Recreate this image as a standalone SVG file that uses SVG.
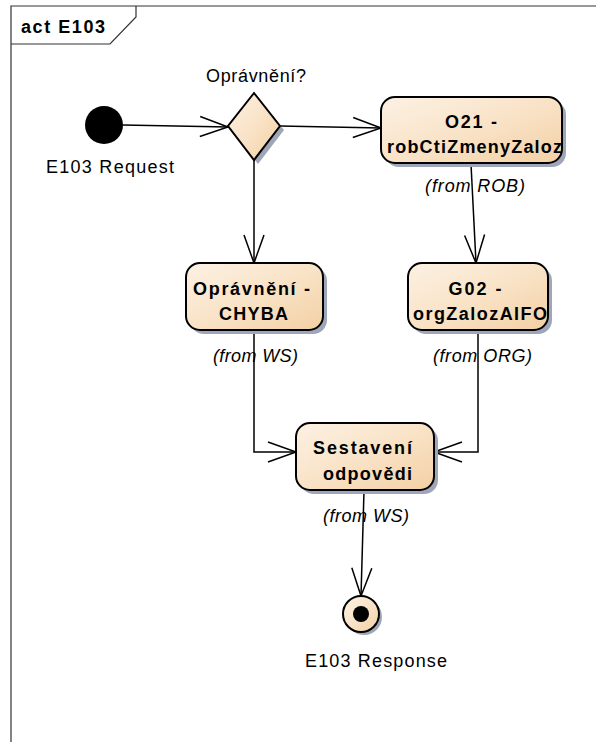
<svg xmlns="http://www.w3.org/2000/svg" width="596" height="742" viewBox="0 0 596 742">
<style>
text{font-family:"Liberation Sans",Arial,sans-serif;font-size:18px;fill:#000}
.b{font-weight:bold}
.i{font-style:italic}
.node{stroke:#000;stroke-width:2;fill:url(#g)}
.shadow{fill:#9ea6b8;stroke:none}
.edge{fill:none;stroke:#000;stroke-width:1.5;marker-end:url(#arr)}
.frame{fill:none;stroke:#333;stroke-width:1.2}
</style>
<defs>
<linearGradient id="g" x1="0" y1="0" x2="1" y2="1">
<stop offset="0" stop-color="#fcf1e4"/>
<stop offset="0.5" stop-color="#f9e3c7"/>
<stop offset="1" stop-color="#f3d0a4"/>
</linearGradient>
<marker id="arr" markerUnits="userSpaceOnUse" markerWidth="40" markerHeight="30" refX="0" refY="0" orient="auto" overflow="visible">
<path d="M-28,-10 L0,0 L-28,10" fill="none" stroke="#000" stroke-width="1.5"/>
</marker>
</defs>
<rect width="596" height="742" fill="#fff"/>
<g id="frame">
<path class="frame" d="M11,742 L11,6 L600,6"/>
<path class="frame" d="M11,44 L110,44 L136,17 L136,6"/>
<text x="21" y="33" class="b" textLength="84" lengthAdjust="spacing">act E103</text>
</g>
<g id="connectors">
<path class="edge" d="M123,125 L228,127"/>
<path class="edge" d="M280,126 L381,128"/>
<path class="edge" d="M254,160 L254,263"/>
<path class="edge" d="M471,164 L476,263"/>
<path class="edge" d="M254,331 L254,452 L296,452"/>
<path class="edge" d="M478,331 L478,452 L434,452"/>
<path class="edge" d="M364,491 L361,596"/>
</g>
<g id="initial">
<circle cx="104" cy="125" r="19" fill="#000"/>
<text x="110" y="173" text-anchor="middle" textLength="128" lengthAdjust="spacing">E103 Request</text>
</g>
<g id="decision">
<polygon class="shadow" points="258,97 284,130 258,164 232,130"/>
<polygon class="node" points="254,93 280,126 254,160 228,126"/>
<text x="256" y="82" text-anchor="middle" textLength="100" lengthAdjust="spacing">Oprávnění?</text>
</g>
<g id="o21">
<rect class="shadow" x="385" y="101" width="181" height="66" rx="14"/>
<rect class="node" x="381" y="97" width="181" height="66" rx="14"/>
<text x="471" y="128" text-anchor="middle" class="b" textLength="52" lengthAdjust="spacing">O21 -</text>
<text x="474.5" y="153" text-anchor="middle" class="b" textLength="175" lengthAdjust="spacing">robCtiZmenyZaloz</text>
<text x="475" y="192" text-anchor="middle" class="i" textLength="100" lengthAdjust="spacing">(from ROB)</text>
</g>
<g id="chyba">
<rect class="shadow" x="190" y="267" width="137" height="67" rx="14"/>
<rect class="node" x="186" y="263" width="137" height="67" rx="14"/>
<text x="251.5" y="295" text-anchor="middle" class="b" textLength="117" lengthAdjust="spacing">Oprávnění -</text>
<text x="253.5" y="320" text-anchor="middle" class="b" textLength="69" lengthAdjust="spacing">CHYBA</text>
<text x="255.5" y="362" text-anchor="middle" class="i" textLength="85" lengthAdjust="spacing">(from WS)</text>
</g>
<g id="g02">
<rect class="shadow" x="412" y="267" width="140" height="67" rx="14"/>
<rect class="node" x="408" y="263" width="140" height="67" rx="14"/>
<text x="475" y="295" text-anchor="middle" class="b" textLength="53" lengthAdjust="spacing">G02 -</text>
<text x="480" y="320" text-anchor="middle" class="b" textLength="134" lengthAdjust="spacing">orgZalozAIFO</text>
<text x="482.5" y="362" text-anchor="middle" class="i" textLength="99" lengthAdjust="spacing">(from ORG)</text>
</g>
<g id="sestaveni">
<rect class="shadow" x="300" y="427" width="138" height="67" rx="14"/>
<rect class="node" x="296" y="423" width="138" height="67" rx="14"/>
<text x="362.5" y="454" text-anchor="middle" class="b" textLength="99" lengthAdjust="spacing">Sestavení</text>
<text x="367.5" y="480" text-anchor="middle" class="b" textLength="89" lengthAdjust="spacing">odpovědi</text>
<text x="366" y="522" text-anchor="middle" class="i" textLength="86" lengthAdjust="spacing">(from WS)</text>
</g>
<g id="final">
<circle class="shadow" cx="364" cy="617" r="18"/>
<circle class="node" cx="361" cy="614" r="18"/>
<circle cx="361" cy="614" r="8" fill="#000"/>
<text x="376" y="667" text-anchor="middle" textLength="142" lengthAdjust="spacing">E103 Response</text>
</g>
</svg>
